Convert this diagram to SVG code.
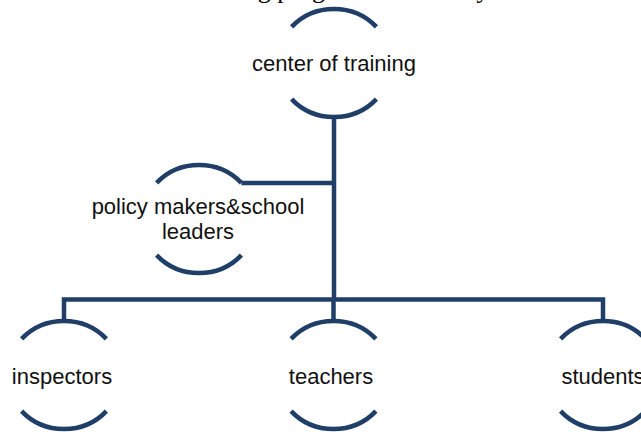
<svg xmlns="http://www.w3.org/2000/svg" width="641" height="436" viewBox="0 0 641 436">
  <defs>
    <style>
      .arc { fill: none; stroke: #1F3E68; stroke-width: 4.5; }
      .conn { fill: none; stroke: #1F3E68; stroke-width: 4.5; stroke-linejoin: miter; }
      .lbl { font-family: "Liberation Sans", Arial, sans-serif; font-size: 22px; fill: #111; text-anchor: middle; }
      .head { font-family: "Liberation Serif", "Times New Roman", serif; font-size: 26px; fill: #000; }
    </style>
  </defs>
  <rect width="641" height="436" fill="#fff"/>
  <text class="head" x="190" y="-2">training programs offered by</text>

  <g id="connectors">
    <path class="conn" d="M334 117 V299.5"/>
    <path class="conn" d="M241.4 183 H334"/>
    <path class="conn" d="M64 321 V299.5 H603 V321"/>
    <path class="conn" d="M333.5 299.5 V321"/>
  </g>

  <g id="center">
    <path class="arc" d="M291.6 26.9 A57 54 0 0 1 376.4 26.9"/>
    <path class="arc" d="M291.6 99.1 A57 54 0 0 0 376.4 99.1"/>
    <text class="lbl" x="334" y="70.5">center of training</text>
  </g>

  <g id="policy">
    <path class="arc" d="M156.6 182.9 A57 54 0 0 1 241.4 182.9"/>
    <path class="arc" d="M156.6 255.1 A57 54 0 0 0 241.4 255.1"/>
    <text class="lbl" x="198" y="213.5">policy makers&amp;school</text>
    <text class="lbl" x="198" y="238.5">leaders</text>
  </g>

  <g id="inspectors">
    <path class="arc" d="M21.6 338.9 A57 54 0 0 1 106.4 338.9"/>
    <path class="arc" d="M21.6 411.1 A57 54 0 0 0 106.4 411.1"/>
    <text class="lbl" x="62" y="383.5">inspectors</text>
  </g>

  <g id="teachers">
    <path class="arc" d="M291.1 338.9 A57 54 0 0 1 375.9 338.9"/>
    <path class="arc" d="M291.1 411.1 A57 54 0 0 0 375.9 411.1"/>
    <text class="lbl" x="331" y="383.5">teachers</text>
  </g>

  <g id="students">
    <path class="arc" d="M560.6 338.9 A57 54 0 0 1 645.4 338.9"/>
    <path class="arc" d="M560.6 411.1 A57 54 0 0 0 645.4 411.1"/>
    <text class="lbl" x="603" y="383.5">students</text>
  </g>
</svg>
